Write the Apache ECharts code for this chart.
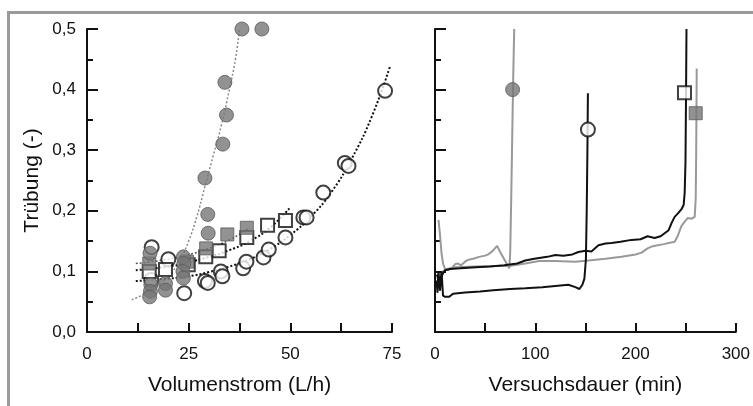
<!DOCTYPE html>
<html lang="de">
<head>
    <meta charset="UTF-8">
    <title>Trübung</title>
    <script src="https://cdn.jsdelivr.net/npm/echarts@6/dist/echarts.min.js"></script>
    <style>
        body { margin: 0; background: #fff; }
    </style>
</head>
<body>
    <div id="main" style="width: 753px;height:406px;"></div>
    <script type="text/javascript">
        // left panel: Trübung vs Volumenstrom (L/h)
        const grayCircles = [[15.5, 0.130], [15.7, 0.078], [15.6, 0.067], [15.4, 0.058], [19.3, 0.080], [19.3, 0.069],
            [23.7, 0.124], [23.8, 0.113], [23.6, 0.100], [23.7, 0.089], [29.0, 0.254], [29.7, 0.194], [29.8, 0.163],
            [33.4, 0.310], [34.3, 0.358], [33.9, 0.412], [38.1, 0.5], [43.0, 0.5]];
        const graySquares = [[15.3, 0.113], [24.6, 0.116], [29.3, 0.138], [34.5, 0.161], [39.3, 0.172]];
        const openSquares = [[15.3, 0.100], [19.3, 0.103], [24.9, 0.111], [29.2, 0.124], [32.5, 0.134], [39.3, 0.156],
            [44.4, 0.176], [48.8, 0.184]];
        const openCircles = [[15.9, 0.140], [15.8, 0.086], [20.0, 0.120], [23.9, 0.064], [29.0, 0.084], [29.7, 0.081],
            [32.9, 0.100], [33.3, 0.092], [38.4, 0.105], [39.2, 0.116], [43.4, 0.123], [44.7, 0.136], [48.8, 0.156],
            [53.2, 0.189], [54.0, 0.189], [58.1, 0.230], [63.4, 0.279], [64.3, 0.274], [73.3, 0.398]];

        const grayCircleFit = [[11, 0.053], [15, 0.066], [18, 0.08], [21, 0.10], [23, 0.12], [25, 0.15], [27, 0.19],
            [29, 0.24], [31, 0.29], [33, 0.34], [35, 0.40], [36.5, 0.45], [37.5, 0.5]];
        const graySquareFit = [[12, 0.113], [18, 0.118], [24, 0.126], [30, 0.138], [35, 0.152], [40, 0.172]];
        const openSquareFit = [[12, 0.102], [20, 0.108], [25, 0.115], [30, 0.124], [35, 0.135], [40, 0.150],
            [45, 0.172], [50, 0.206]];
        const openCircleFit = [[12, 0.084], [18, 0.087], [25, 0.092], [30, 0.099], [35, 0.108], [40, 0.120],
            [45, 0.137], [50, 0.160], [55, 0.190], [60, 0.230], [65, 0.285], [70, 0.355], [74.5, 0.438]];

        // right panel: Trübung vs Versuchsdauer (min)
        const runGrayCircle = [[3.5, 0.185], [5, 0.16], [6.5, 0.13], [8, 0.113], [10, 0.104], [13, 0.102], [17, 0.106],
            [20, 0.112], [23, 0.113], [26, 0.110], [30, 0.116], [33, 0.119], [38, 0.121], [44, 0.124], [50, 0.126],
            [53, 0.128], [57, 0.133], [62, 0.142], [65, 0.132], [70, 0.117], [74, 0.105], [75, 0.13], [76, 0.22],
            [77, 0.32], [78, 0.42], [79, 0.5]];
        const runOpenCircle = [[1.5, 0.085], [2.5, 0.065], [3.5, 0.1], [5, 0.068], [6.5, 0.1], [8, 0.06], [10, 0.058],
            [14, 0.058], [18, 0.063], [30, 0.065], [45, 0.067], [58, 0.069], [75, 0.071], [90, 0.072], [107, 0.074],
            [120, 0.076], [133, 0.078], [140, 0.074], [144, 0.071], [147, 0.078], [149, 0.088], [150.5, 0.12],
            [151.3, 0.2], [152, 0.3], [152.5, 0.394]];
        const runOpenSquare = [[2, 0.095], [4, 0.08], [6, 0.09], [8, 0.097], [10, 0.102], [15, 0.104], [25, 0.105],
            [41, 0.107], [55, 0.108], [69, 0.110], [82, 0.113], [90, 0.118], [99, 0.121], [112, 0.124], [120, 0.127],
            [128, 0.126], [137, 0.128], [143, 0.132], [150, 0.134], [156, 0.133], [163, 0.143], [170, 0.146],
            [176, 0.147], [185, 0.149], [196, 0.152], [205, 0.153], [212, 0.158], [219, 0.155], [225, 0.158],
            [229, 0.163], [233, 0.168], [236, 0.18], [239, 0.19], [243, 0.197], [246, 0.203], [248, 0.21],
            [249, 0.23], [249.8, 0.28], [250.4, 0.4], [250.8, 0.5]];
        const runGraySquare = [[5, 0.09], [8, 0.1], [12, 0.104], [20, 0.107], [40, 0.108], [60, 0.109], [74, 0.109],
            [90, 0.113], [104, 0.117], [120, 0.117], [140, 0.116], [153, 0.118], [170, 0.121], [186, 0.124],
            [200, 0.128], [206, 0.131], [212, 0.138], [216, 0.141], [228, 0.145], [239, 0.149], [242, 0.158],
            [245.5, 0.174], [248, 0.18], [252, 0.188], [256, 0.187], [259, 0.19], [260, 0.22], [260.5, 0.3],
            [261, 0.435]];
        const endGrayCircle = [[77.4, 0.400]];
        const endOpenCircle = [[152.5, 0.334]];
        const endOpenSquare = [[248.8, 0.395]];
        const endGraySquare = [[260, 0.361]];

        const font = 'Liberation Sans, Arial, sans-serif';
        const black = '#111';
        const grayFill = '#777';

        function xAx(gi, max, name) {
            return {
                type: 'value', gridIndex: gi, min: 0, max: max, interval: max / 3,
                axisLine: { show: true, onZero: false, lineStyle: { color: black, width: 2 } },
                axisTick: { show: true, inside: true, length: 9, lineStyle: { color: black, width: 2 } },
                minorTick: { show: true, splitNumber: 2, length: 9, lineStyle: { color: black, width: 2 } },
                splitLine: { show: false },
                axisLabel: { fontSize: 17, color: '#111', fontFamily: font, margin: 14 },
                name: name, nameLocation: 'middle', nameGap: 43,
                nameTextStyle: { fontSize: 21, color: '#111', fontFamily: font }
            };
        }
        function yAx(gi, showLabels) {
            return {
                type: 'value', gridIndex: gi, min: 0, max: 0.5, interval: 0.1,
                axisLine: { show: true, onZero: false, lineStyle: { color: black, width: 2 } },
                axisTick: { show: true, inside: true, length: 11, lineStyle: { color: black, width: 2 } },
                minorTick: { show: true, splitNumber: 2, length: 6, lineStyle: { color: black, width: 2 } },
                splitLine: { show: false },
                axisLabel: {
                    show: showLabels, fontSize: 17, color: '#111', fontFamily: font, margin: 11,
                    formatter: v => v.toFixed(1).replace('.', ',')
                },
                name: showLabels ? 'Trübung (-)' : '', nameLocation: 'middle', nameGap: 44, nameRotate: 90,
                nameTextStyle: { fontSize: 21, color: '#111', fontFamily: font }
            };
        }
        function fit(data, color, width) {
            return {
                type: 'line', xAxisIndex: 0, yAxisIndex: 0, data: data, smooth: true, showSymbol: false,
                lineStyle: { color: color, width: width, type: [2, 2] }, z: 1
            };
        }
        function pts(data, gi, symbol, filled, z) {
            return {
                type: 'scatter', xAxisIndex: gi, yAxisIndex: gi, data: data, symbol: symbol,
                symbolSize: symbol === 'rect' ? 13 : 14, z: z,
                itemStyle: filled
                    ? { color: grayFill, borderColor: '#5a5a5a', borderWidth: 1 }
                    : { color: '#fff', borderColor: black, borderWidth: 2 }
            };
        }
        function run(data, color) {
            return {
                type: 'line', xAxisIndex: 1, yAxisIndex: 1, data: data, showSymbol: false,
                lineStyle: { color: color, width: 2 }, z: 2
            };
        }

        let myChart = echarts.init(document.getElementById('main'));
        myChart.setOption({
            animation: false,
            backgroundColor: '#fff',
            grid: [
                { left: 87, top: 29, width: 305, height: 303 },
                { left: 435, top: 29, width: 305, height: 303 }
            ],
            xAxis: [xAx(0, 75, 'Volumenstrom (L/h)'), xAx(1, 300, 'Versuchsdauer (min)')],
            yAxis: [yAx(0, true), yAx(1, false)],
            graphic: [
                { type: 'line', shape: { x1: 7, y1: 12.5, x2: 753, y2: 12.5 }, style: { stroke: '#9a9a9a', lineWidth: 3 } },
                { type: 'line', shape: { x1: 8.5, y1: 11, x2: 8.5, y2: 406 }, style: { stroke: '#9a9a9a', lineWidth: 3 } }
            ],
            series: [
                fit(grayCircleFit, '#8a8a8a', 1.5),
                fit(graySquareFit, '#555', 1.5),
                fit(openSquareFit, black, 2),
                fit(openCircleFit, black, 2),
                pts(openCircles, 0, 'circle', false, 3),
                pts(openSquares, 0, 'rect', false, 4),
                pts(graySquares, 0, 'rect', true, 5),
                pts(grayCircles, 0, 'circle', true, 6),
                run(runGraySquare, '#999'),
                run(runGrayCircle, '#999'),
                run(runOpenSquare, black),
                run(runOpenCircle, black),
                pts(endGrayCircle, 1, 'circle', true, 6),
                pts(endOpenCircle, 1, 'circle', false, 6),
                pts(endOpenSquare, 1, 'rect', false, 6),
                pts(endGraySquare, 1, 'rect', true, 6)
            ]
        });
    </script>
</body>
</html>
